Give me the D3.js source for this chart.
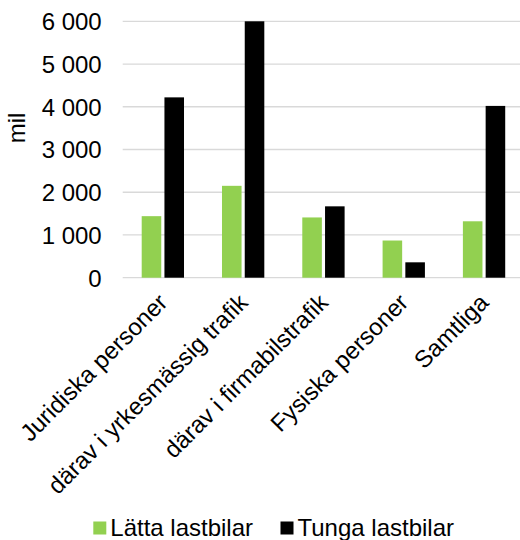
<!DOCTYPE html>
<html>
<head>
<meta charset="utf-8">
<style>
  body { margin: 0; background: #fff; }
  svg text { font-family: "Liberation Sans", Arial, sans-serif; fill: #000; }
  .grid line { stroke: #D9D9D9; stroke-width: 1.3px; }
</style>
</head>
<body>
<div id="chart"></div>
<script src="https://d3js.org/d3.v7.min.js"></script>
<script>

// data
var categories = ["Juridiska personer", "därav i yrkesmässig trafik", "därav i firmabilstrafik", "Fysiska personer", "Samtliga"];
var series = ["Lätta lastbilar", "Tunga lastbilar"];
var colors = ["#92D050", "#000000"];
var latta = [1440, 2150, 1410, 870, 1320];
var tunga = [4220, 6000, 1670, 360, 4020];
var yTicks = [0, 1000, 2000, 3000, 4000, 5000, 6000];
var yTitle = "mil";

var width = 520, height = 540;
var plot = {left: 122.7, right: 524.2, top: 21.3, bottom: 277.7};
var fontSize = "24px";

var svg = d3.select("#chart").append("svg")
    .attr("width", width)
    .attr("height", height);

var x0 = d3.scaleBand()
    .domain(categories)
    .range([plot.left, plot.right])
    .paddingInner(0.473)
    .paddingOuter(0.2365);

var x1 = d3.scaleBand()
    .domain(series)
    .range([0, x0.bandwidth()])
    .paddingInner(0.14);

var y = d3.scaleLinear()
    .domain([0, 6000])
    .range([plot.bottom, plot.top]);

var fmt = function(d) { return d3.format(",")(d).replace(/,/g, " "); };

// gridlines
svg.append("g")
    .attr("class", "grid")
  .selectAll("line")
  .data(yTicks)
  .enter().append("line")
    .attr("x1", plot.left)
    .attr("x2", width)
    .attr("y1", function(d) { return y(d); })
    .attr("y2", function(d) { return y(d); });

// y axis labels
var yAxis = svg.append("g")
    .attr("transform", "translate(" + (plot.left - 21) + ",0)")
    .call(d3.axisLeft(y).tickValues(yTicks).tickFormat(fmt).tickSize(0).tickPadding(0));
yAxis.select(".domain").remove();
yAxis.selectAll("text")
    .style("font-size", fontSize)
    .attr("dy", "0.35em");

// y title
svg.append("text")
    .attr("transform", "translate(25,128) rotate(-90)")
    .attr("text-anchor", "middle")
    .style("font-size", fontSize)
    .text(yTitle);

// bars
var rows = categories.map(function(c, i) { return {cat: c, vals: [latta[i], tunga[i]]}; });

var groups = svg.selectAll(".cat")
  .data(rows)
  .enter().append("g")
    .attr("class", "cat")
    .attr("transform", function(d) { return "translate(" + x0(d.cat) + ",0)"; });

groups.selectAll("rect")
  .data(function(d) { return d.vals.map(function(v, j) { return {s: series[j], v: v, c: colors[j]}; }); })
  .enter().append("rect")
    .attr("x", function(d) { return x1(d.s); })
    .attr("width", x1.bandwidth())
    .attr("y", function(d) { return y(d.v); })
    .attr("height", function(d) { return y(0) - y(d.v); })
    .attr("fill", function(d) { return d.c; });

// category labels
svg.append("g")
  .selectAll("text")
  .data(categories)
  .enter().append("text")
    .attr("transform", function(d) {
      return "translate(" + (x0(d) + x0.bandwidth() / 2 + 6) + ",304) rotate(-45)";
    })
    .attr("text-anchor", "end")
    .style("font-size", fontSize)
    .text(function(d) { return d; });

// legend
var legendX = [93.3, 280.5];
var leg = svg.append("g")
  .selectAll("g")
  .data(series)
  .enter().append("g")
    .attr("transform", function(d, i) { return "translate(" + legendX[i] + ",521.5)"; });

leg.append("rect")
    .attr("width", 13)
    .attr("height", 13)
    .attr("fill", function(d, i) { return colors[i]; });

leg.append("text")
    .attr("x", 17)
    .attr("y", 14)
    .style("font-size", fontSize)
    .text(function(d) { return d; });

</script>
</body>
</html>
